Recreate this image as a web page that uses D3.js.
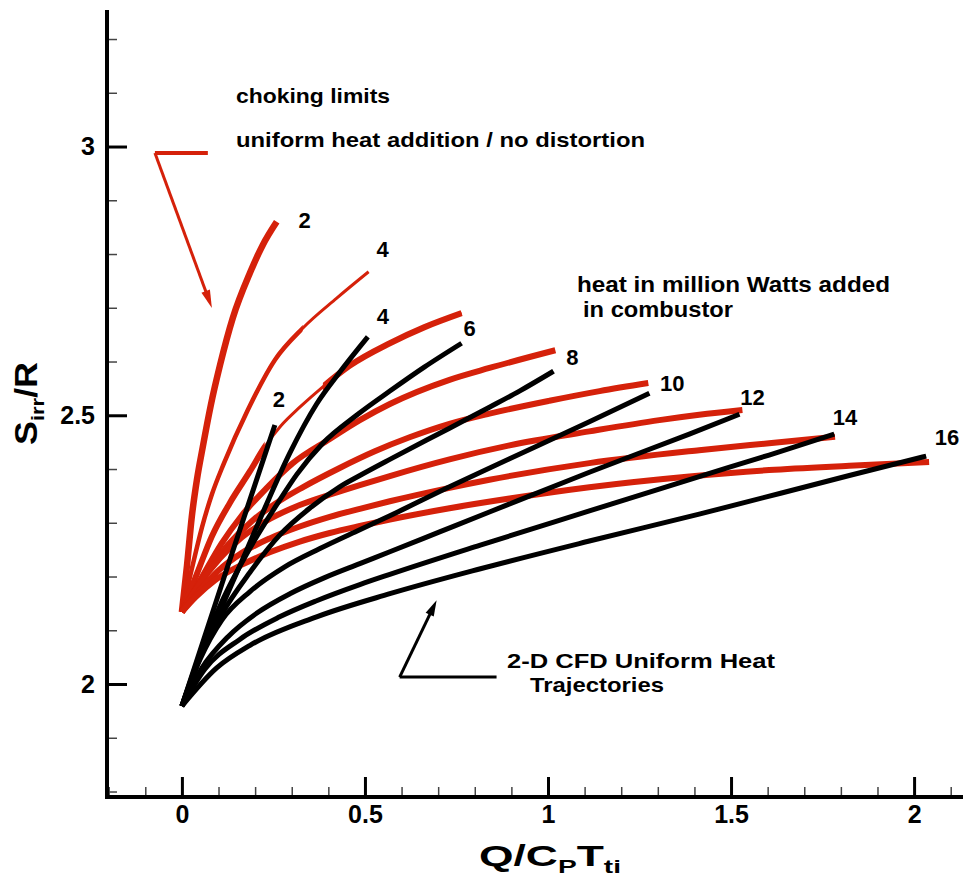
<!DOCTYPE html>
<html><head><meta charset="utf-8">
<script src="https://cdn.jsdelivr.net/npm/d3@7"></script>
<style>
html,body{margin:0;padding:0;background:#fff;}
svg{display:block;font-family:"Liberation Sans",Arial,Helvetica,sans-serif;font-weight:bold;}
</style></head><body>
<svg id="chart" width="963" height="876"></svg>
<script>
// ---------------- data ----------------
const heatMW = [2, 4, 6, 8, 10, 12, 14, 16];

// choking limits, uniform heat addition / no distortion  [Q/CpTti, Sirr/R]
const choke2  = [[0,2.134],[0.014,2.221],[0.027,2.311],[0.041,2.380],[0.057,2.441],[0.079,2.519],[0.104,2.593],[0.139,2.681],[0.186,2.765],[0.221,2.817],[0.259,2.860]];
const choke4  = [[0,2.134],[0.027,2.214],[0.055,2.292],[0.082,2.353],[0.115,2.411],[0.180,2.510],[0.254,2.603],[0.330,2.662],[0.423,2.718],[0.510,2.767]];
const choke6  = [[0,2.134],[0.041,2.205],[0.082,2.275],[0.131,2.337],[0.186,2.396],[0.226,2.441],[0.270,2.480],[0.322,2.515],[0.385,2.553],[0.458,2.592],[0.568,2.634],[0.663,2.664],[0.764,2.690]];
const choke8  = [[0,2.134],[0.055,2.199],[0.109,2.262],[0.164,2.314],[0.232,2.365],[0.303,2.411],[0.404,2.456],[0.486,2.491],[0.568,2.521],[0.731,2.566],[0.840,2.588],[1.020,2.621]];
const choke10 = [[0,2.134],[0.063,2.203],[0.126,2.259],[0.191,2.303],[0.254,2.335],[0.330,2.366],[0.431,2.402],[0.527,2.433],[0.622,2.459],[0.731,2.484],[0.840,2.503],[1.004,2.527],[1.141,2.545],[1.274,2.560]];
const choke12 = [[0,2.134],[0.044,2.182],[0.104,2.234],[0.164,2.273],[0.240,2.307],[0.322,2.333],[0.412,2.354],[0.486,2.370],[0.568,2.387],[0.731,2.418],[0.895,2.444],[1.113,2.470],[1.304,2.491],[1.413,2.501],[1.531,2.510]];
const choke14 = [[0,2.134],[0.044,2.171],[0.098,2.210],[0.164,2.244],[0.240,2.271],[0.322,2.293],[0.404,2.311],[0.486,2.326],[0.568,2.340],[0.731,2.365],[0.840,2.380],[1.113,2.411],[1.413,2.435],[1.604,2.448],[1.784,2.460]];
const choke16 = [[0,2.134],[0.038,2.162],[0.090,2.193],[0.164,2.222],[0.240,2.245],[0.322,2.265],[0.404,2.281],[0.486,2.294],[0.568,2.306],[0.731,2.327],[0.895,2.345],[1.113,2.366],[1.386,2.386],[1.604,2.398],[1.823,2.406],[2.041,2.413]];

// 2-D CFD uniform heat trajectories
const cfd2  = [[0,1.959],[0.126,2.221],[0.254,2.482]];
const cfd4  = [[0,1.959],[0.057,2.063],[0.117,2.156],[0.175,2.246],[0.232,2.336],[0.295,2.430],[0.368,2.521],[0.431,2.580],[0.508,2.646]];
const cfd6  = [[0,1.959],[0.049,2.054],[0.109,2.153],[0.186,2.253],[0.267,2.342],[0.314,2.390],[0.385,2.448],[0.477,2.500],[0.568,2.545],[0.663,2.590],[0.764,2.634]];
const cfd8  = [[0,1.959],[0.049,2.048],[0.109,2.130],[0.186,2.208],[0.267,2.277],[0.349,2.327],[0.431,2.367],[0.486,2.388],[0.568,2.418],[0.731,2.476],[0.840,2.515],[0.922,2.545],[1.015,2.582]];
const cfd10 = [[0,1.959],[0.049,2.045],[0.109,2.119],[0.186,2.172],[0.281,2.218],[0.377,2.252],[0.486,2.287],[0.568,2.313],[0.731,2.367],[0.895,2.419],[1.113,2.488],[1.277,2.541]];
const cfd12 = [[0,1.959],[0.055,2.030],[0.126,2.088],[0.207,2.133],[0.295,2.168],[0.390,2.198],[0.486,2.224],[0.568,2.246],[0.704,2.283],[0.840,2.320],[1.113,2.394],[1.386,2.465],[1.523,2.502]];
const cfd14 = [[0,1.959],[0.063,2.028],[0.158,2.083],[0.267,2.125],[0.368,2.155],[0.486,2.185],[0.568,2.204],[0.813,2.258],[1.113,2.322],[1.413,2.386],[1.604,2.426],[1.782,2.465]];
const cfd16 = [[0,1.959],[0.095,2.030],[0.186,2.072],[0.368,2.125],[0.568,2.168],[0.813,2.214],[1.113,2.266],[1.413,2.316],[1.823,2.388],[2.033,2.424]];

const xTickValues = [0, 0.5, 1, 1.5, 2];
const xTickLabels = ['0', '0.5', '1', '1.5', '2'];
const yTickValues = [2, 2.5, 3];
const yTickLabels = ['2', '2.5', '3'];

// ---------------- setup ----------------
const chokeSeries = [choke2, choke4, choke6, choke8, choke10, choke12, choke14, choke16];
const cfdSeries = [cfd2, cfd4, cfd6, cfd8, cfd10, cfd12, cfd14, cfd16];

const RED = '#d5210a';
const svg = d3.select('#chart');
const x = d3.scaleLinear().domain([-0.2046, 2.1336]).range([107, 963]);
const y = d3.scaleLinear().domain([1.7898, 3.2540]).range([797, 10]);
const X0 = x.range()[0], Y0 = y.range()[0];

// ---------------- axes ----------------
const isMajor = v => Math.abs(v * 2 - Math.round(v * 2)) < 1e-6;
const xMinor = d3.range(-2, 22).map(i => i / 10).filter(v => !isMajor(v));
const yMinor = d3.range(18, 33).map(i => i / 10).filter(v => !isMajor(v));

function clean(g, w, color) {
  g.select('.domain').remove();
  g.selectAll('.tick line').attr('stroke', color).attr('stroke-width', w);
  g.attr('font-family', null).attr('font-size', 25).attr('font-weight', 'bold');
  g.selectAll('.tick text').attr('fill', '#000');
}

svg.append('g').attr('transform', `translate(0,${Y0})`)
  .call(d3.axisBottom(x).tickValues(xMinor).tickSize(-10).tickFormat(''))
  .call(g => clean(g, 1.5, '#444'));
svg.append('g').attr('transform', `translate(0,${Y0})`)
  .call(d3.axisBottom(x).tickValues(xTickValues).tickSize(-20).tickPadding(8)
        .tickFormat((d, i) => xTickLabels[i]))
  .call(g => clean(g, 3, '#000'));

svg.append('g').attr('transform', `translate(${X0},0)`)
  .call(d3.axisLeft(y).tickValues(yMinor).tickSize(-10).tickFormat(''))
  .call(g => clean(g, 1.5, '#444'));
svg.append('g').attr('transform', `translate(${X0},0)`)
  .call(d3.axisLeft(y).tickValues(yTickValues).tickSize(-20).tickPadding(12)
        .tickFormat((d, i) => yTickLabels[i]))
  .call(g => clean(g, 3, '#000'));

svg.append('path')
  .attr('d', `M${X0},${y.range()[1]}V${Y0}H${x.range()[1]}`)
  .attr('fill', 'none').attr('stroke', '#000').attr('stroke-width', 4)
  .attr('stroke-linejoin', 'miter');

// axis titles
const xt = svg.append('text').attr('x', 479).attr('y', 866).attr('font-size', 30)
  .attr('textLength', 142).attr('lengthAdjust', 'spacingAndGlyphs');
xt.append('tspan').text('Q/C');
xt.append('tspan').attr('font-size', 19).attr('dy', 7).text('P');
xt.append('tspan').attr('dy', -7).text('T');
xt.append('tspan').attr('font-size', 19).attr('dy', 7).text('ti');

const yt = svg.append('text').attr('transform', 'translate(37,445) rotate(-90)')
  .attr('font-size', 31).attr('textLength', 83).attr('lengthAdjust', 'spacingAndGlyphs');
yt.append('tspan').text('S');
yt.append('tspan').attr('font-size', 19).attr('dy', 7).text('irr');
yt.append('tspan').attr('dy', -7).text('/R');

// ---------------- curves ----------------
const line = d3.line().x(d => x(d[0])).y(d => y(d[1])).curve(d3.curveMonotoneX);

// thin (noisy) portions of some choking curves, by Q range
const thinRanges = { 4: [0.33, 9], 6: [0.226, 0.385] };
const chokeWidth = { 2: 6.5, 4: 4.5 };

const defs = svg.append('defs');
const gRed = svg.append('g').attr('fill', 'none').attr('stroke', RED)
  .attr('stroke-linecap', 'butt').attr('stroke-linejoin', 'round');
chokeSeries.forEach((pts, i) => {
  const q = heatMW[i];
  const w = chokeWidth[q] || 6;
  const r = thinRanges[q];
  const d = line(pts);
  if (!r) {
    gRed.append('path').attr('d', d).attr('stroke-width', w);
  } else {
    gRed.append('path').attr('d', d).attr('stroke-width', 3);
    const cp = defs.append('clipPath').attr('id', 'thick' + q);
    cp.append('rect').attr('x', 0).attr('y', 0).attr('width', x(r[0])).attr('height', 876);
    cp.append('rect').attr('x', x(r[1])).attr('y', 0).attr('width', 963).attr('height', 876);
    gRed.append('path').attr('d', d).attr('stroke-width', w).attr('clip-path', `url(#thick${q})`);
  }
});

const gBlk = svg.append('g').attr('fill', 'none').attr('stroke', '#000')
  .attr('stroke-width', 5).attr('stroke-linejoin', 'round');
cfdSeries.forEach(pts => gBlk.append('path').attr('d', line(pts)));

// curve-end labels (heat in MW)
const endLabels = [
  { q: 2, set: 'choke', dx: 28, dy: -1 },
  { q: 2, set: 'cfd', dx: 4, dy: -25 },
  { q: 4, set: 'choke', dx: 14, dy: -22 },
  { q: 4, set: 'cfd', dx: 15, dy: -20 },
  { q: 6, set: 'cfd', dx: 8, dy: -15 },
  { q: 8, set: 'choke', dx: 17, dy: 7 },
  { q: 10, set: 'choke', dx: 24, dy: 0 },
  { q: 12, set: 'choke', dx: 10, dy: -12 },
  { q: 14, set: 'choke', dx: 10, dy: -19 },
  { q: 16, set: 'choke', dx: 18, dy: -25 }
];
endLabels.forEach(l => {
  const s = (l.set === 'choke' ? chokeSeries : cfdSeries)[heatMW.indexOf(l.q)];
  const last = s[s.length - 1];
  svg.append('text').attr('x', x(last[0]) + l.dx).attr('y', y(last[1]) + l.dy)
    .attr('text-anchor', 'middle').attr('dominant-baseline', 'central')
    .attr('font-size', 22).text(l.q);
});

// ---------------- annotations ----------------
function arrow(corner, barEnd, tip, color, wBar, wShaft, L, hw) {
  const c = [x(corner[0]), y(corner[1])], b = [x(barEnd[0]), y(barEnd[1])], t = [x(tip[0]), y(tip[1])];
  svg.append('line').attr('x1', c[0]).attr('y1', c[1]).attr('x2', b[0]).attr('y2', b[1])
    .attr('stroke', color).attr('stroke-width', wBar);
  const dx = t[0] - c[0], dy = t[1] - c[1], len = Math.hypot(dx, dy);
  const ux = dx / len, uy = dy / len, nx = -uy, ny = ux;
  const bx = t[0] - ux * L, by = t[1] - uy * L;
  svg.append('line').attr('x1', c[0]).attr('y1', c[1]).attr('x2', bx + ux * 2).attr('y2', by + uy * 2)
    .attr('stroke', color).attr('stroke-width', wShaft);
  svg.append('path')
    .attr('d', `M${t[0]},${t[1]}L${bx + nx * hw},${by + ny * hw}L${bx - nx * hw},${by - ny * hw}Z`)
    .attr('fill', color);
}
arrow([-0.0737, 2.988], [0.0709, 2.988], [0.0819, 2.6995], RED, 4, 3, 18, 4.5);
arrow([0.5948, 2.013], [0.8595, 2.013], [0.6958, 2.156], '#000', 3, 3, 16, 4.5);

function note(tx, ty, str, size, len) {
  svg.append('text').attr('x', tx).attr('y', ty).attr('font-size', size)
    .attr('textLength', len).attr('lengthAdjust', 'spacingAndGlyphs').text(str);
}
note(236, 103, 'choking limits', 21, 154);
note(236, 147, 'uniform heat addition / no distortion', 21, 409);
note(577, 292, 'heat in million Watts added', 22, 313);
note(583, 317, 'in combustor', 22, 150);
note(507, 668, '2-D CFD Uniform Heat', 21, 268);
note(530, 692, 'Trajectories', 21, 134);
</script>
</body></html>
